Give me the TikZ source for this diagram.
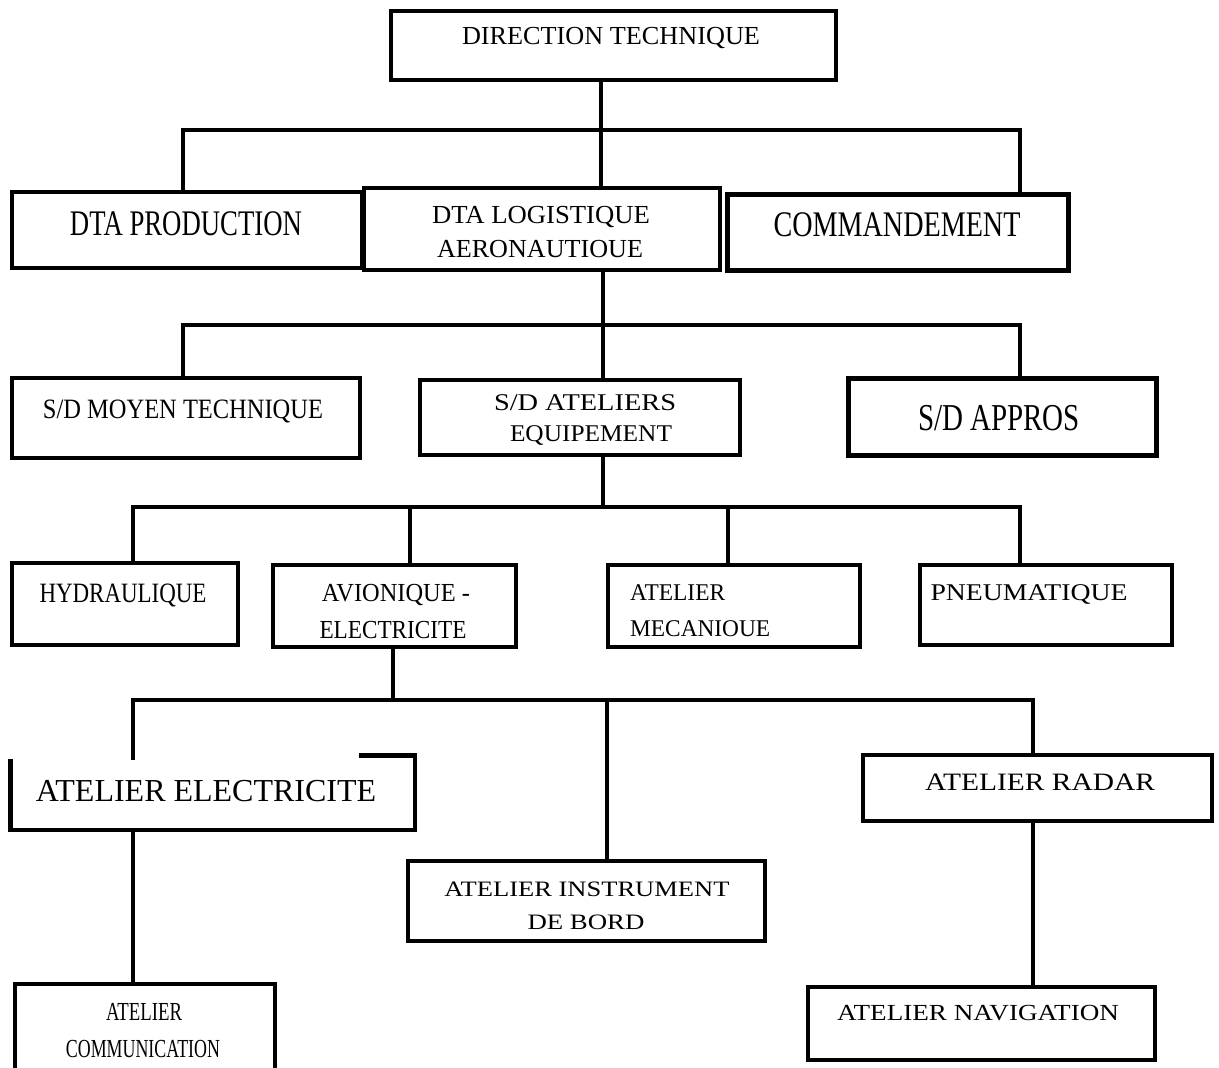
\documentclass[tikz,border=0pt]{standalone}
\usepackage{fontspec}
\setmainfont{Liberation Serif}
\newcommand\mybox[6][]{\node[box,#1, minimum width={#5pt-#3pt}, minimum height={#6pt-#4pt}] (#2) at ({(#3+#5)/2},{(#4+#6)/2}) {};}
\newcommand\wtxt[2]{\resizebox{#1pt}{\height}{#2}}
\begin{document}
\begin{tikzpicture}[x=1pt,y=-1pt,
  box/.style={draw, line width=3.5pt, inner sep=0pt, fill=white},
  heavy/.style={line width=5pt},
  conn/.style={line width=4.5pt},
  tx/.style={inner sep=0pt, anchor=base},
  fs/.style={font=\fontsize{#1}{#1}\selectfont}]
\useasboundingbox (0,0) rectangle (1219,1068);
\clip (0,0) rectangle (1219,1068);
% boxes
\mybox{dt}{391}{11}{836}{80}
\mybox{prod}{12}{192}{362}{268}
\mybox{dtl}{364}{188}{720}{270}
\mybox[heavy]{cmd}{727}{194}{1068}{270}
\mybox{smt}{12}{378}{360}{458}
\mybox{sda}{420}{380}{740}{455}
\mybox[heavy]{app}{848}{378}{1156}{455}
\mybox{hyd}{12}{563}{238}{645}
\mybox{avi}{273}{565}{516}{647}
\mybox{mec}{608}{565}{860}{647}
\mybox{pne}{920}{565}{1172}{645}
\mybox[draw=none]{ele}{12}{757}{413}{828}
\mybox{ins}{408}{861}{765}{941}
\mybox{rad}{863}{755}{1212}{821}
\mybox{nav}{808}{987}{1155}{1060}
\mybox{com}{15}{984}{275}{1085}
% partial frame of ATELIER ELECTRICITE
\draw[line width=4.5pt] ([yshift=-4pt]ele.north west) |- (ele.south east) -- (ele.north east) -- ([xshift=-56pt]ele.north east);
% texts
\node[tx,fs=26] (tdt) at (611,45) {\wtxt{298}{DIRECTION TECHNIQUE}};
\node[tx,fs=36] (tprod) at (186,235) {\wtxt{232}{DTA PRODUCTION}};
\node[tx,fs=26] (tdtla) at (541,223) {\wtxt{218}{DTA LOGISTIQUE}};
\node[tx,fs=26] (tdtlb) at (540,257) {\wtxt{206}{AERONAUTIOUE}};
\node[tx,fs=36] (tcmd) at (897,236) {\wtxt{247}{COMMANDEMENT}};
\node[tx,fs=28] (tsmt) at (183,418) {\wtxt{280}{S/D MOYEN TECHNIQUE}};
\node[tx,fs=24] (tsdaa) at (585,410) {\wtxt{182}{S/D ATELIERS}};
\node[tx,fs=24] (tsdab) at (591,441) {\wtxt{162}{EQUIPEMENT}};
\node[tx,fs=38] (tapp) at (999,430) {\wtxt{162}{S/D APPROS}};
\node[tx,fs=28] (thyd) at (123,602) {\wtxt{167}{HYDRAULIQUE}};
\node[tx,fs=26] (tavia) at (396,601) {\wtxt{148}{AVIONIQUE -}};
\node[tx,fs=26] (tavib) at (393,638) {\wtxt{147}{ELECTRICITE}};
\node[tx,fs=24,anchor=base west] (tmeca) at (630,600) {\wtxt{95}{ATELIER}};
\node[tx,fs=24,anchor=base west] (tmecb) at (630,636) {\wtxt{140}{MECANIOUE}};
\node[tx,fs=24] (tpne) at (1029,600) {\wtxt{197}{PNEUMATIQUE}};
\node[tx,fs=32] (tele) at (206,801) {ATELIER ELECTRICITE};
\node[tx,fs=22] (tinsa) at (587,896) {\wtxt{285}{ATELIER INSTRUMENT}};
\node[tx,fs=22] (tinsb) at (586,929) {\wtxt{117}{DE BORD}};
\node[tx,fs=25] (trad) at (1040,790) {\wtxt{230}{ATELIER RADAR}};
\node[tx,fs=23] (tnav) at (978,1020) {\wtxt{282}{ATELIER NAVIGATION}};
\node[tx,fs=26] (tcoma) at (144,1020) {\wtxt{76}{ATELIER}};
\node[tx,fs=26] (tcomb) at (143,1057) {\wtxt{154}{COMMUNICATION}};
% junction coordinates
\coordinate (va) at (601,130);
\coordinate (ha) at (183,130);
\coordinate (hb) at (1020,130);
\coordinate (vb) at (603,325);
\coordinate (hc) at (183,325);
\coordinate (hd) at (1020,325);
\coordinate (vc) at (603,507);
\coordinate (he) at (133,507);
\coordinate (hf) at (410,507);
\coordinate (hg) at (728,507);
\coordinate (hh) at (1020,507);
\coordinate (vd) at (393,700);
\coordinate (hi) at (133,700);
\coordinate (hj) at (607,700);
\coordinate (hk) at (1033,700);
% connectors
\draw[conn] (dt.south -| va) -- (va |- dtl.north);
\draw[conn] (ha |- prod.north) -- (ha) -- (hb) -- (hb |- cmd.north);
\draw[conn] (dtl.south -| vb) -- (vb |- sda.north);
\draw[conn] (hc |- smt.north) -- (hc) -- (hd) -- (hd |- app.north);
\draw[conn] (sda.south -| vc) -- (vc);
\draw[conn] (he |- hyd.north) -- (he) -- (hh) -- (hh |- pne.north);
\draw[conn] (hf) -- (hf |- avi.north);
\draw[conn] (hg) -- (hg |- mec.north);
\draw[conn] (avi.south -| vd) -- (vd);
\draw[conn] ([yshift=-5pt]hi |- ele.north) -- (hi) -- (hk) -- (hk |- rad.north);
\draw[conn] (hj) -- (hj |- ins.north);
\draw[conn] (hi |- ele.south) -- (hi |- com.north);
\draw[conn] (hk |- rad.south) -- (hk |- nav.north);
\end{tikzpicture}
\end{document}
